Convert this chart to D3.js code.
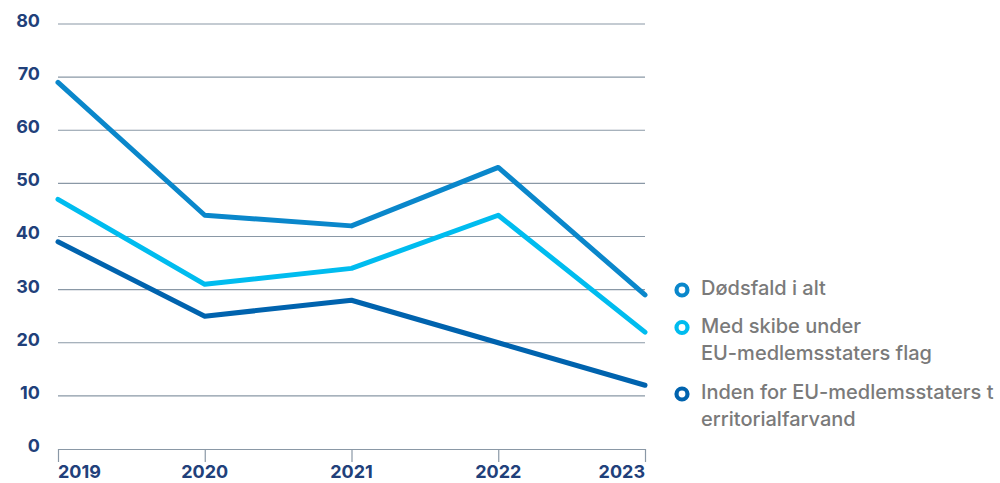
<!DOCTYPE html>
<html>
<head>
<meta charset="utf-8">
<script src="https://cdn.jsdelivr.net/npm/d3@7"></script>
<style>
  html, body { margin: 0; padding: 0; background: #ffffff; }
  svg { display: block; }
</style>
</head>
<body>
<div id="chart"></div>
<script>
// Years on the x axis
const years = ["2019", "2020", "2021", "2022", "2023"];

// Deaths per year for each series
const totalDeaths = [69, 44, 42, 53, 29];
const euFlagShips = [47, 31, 34, 44, 22];
const euTerritorialWaters = [39, 25, 28, 20, 12];

// Y axis ticks
const yTicks = [0, 10, 20, 30, 40, 50, 60, 70, 80];

// Legend labels (each entry can span several lines)
const seriesNames = [
  ["Dødsfald i alt"],
  ["Med skibe under", "EU-medlemsstaters flag"],
  ["Inden for EU-medlemsstaters t", "erritorialfarvand"]
];
const seriesColors = ["#0a87cb", "#00bcef", "#0063ae"];

const series = [
  { name: seriesNames[0], values: totalDeaths, color: seriesColors[0] },
  { name: seriesNames[1], values: euFlagShips, color: seriesColors[1] },
  { name: seriesNames[2], values: euTerritorialWaters, color: seriesColors[2] }
];

const W = 1000, H = 483;
const svg = d3.select("#chart").append("svg")
  .attr("width", W).attr("height", H);

const x = d3.scalePoint().domain(years).range([58, 645]);
const y = d3.scaleLinear().domain([0, 80]).range([449, 24]);

const labelFont = "Inter, 'Open Sans', sans-serif";

// Horizontal gridlines
svg.append("g")
  .selectAll("line")
  .data(yTicks.filter(d => d > 0))
  .join("line")
  .attr("x1", 58).attr("x2", 645)
  .attr("y1", d => y(d)).attr("y2", d => y(d))
  .attr("stroke", "#8a98a6")
  .attr("stroke-width", 1.2);

// Y axis labels
svg.append("g")
  .selectAll("text")
  .data(yTicks)
  .join("text")
  .attr("x", 40)
  .attr("y", d => y(d) - 2)
  .attr("text-anchor", "end")
  .attr("dominant-baseline", "middle")
  .attr("font-family", labelFont)
  .attr("font-weight", 700)
  .attr("font-size", 18)
  .attr("fill", "#21407a")
  .text(d => d);

// X axis: baseline with ticks
const xAxis = d3.axisBottom(x).tickSize(13).tickSizeOuter(0).tickFormat("");
const gx = svg.append("g").attr("transform", `translate(0,${y(0)})`).call(xAxis);
gx.select(".domain").attr("stroke", "#8a98a6").attr("stroke-width", 1.2);
gx.selectAll(".tick line").attr("stroke", "#8a98a6").attr("stroke-width", 1.2);

// X axis labels
svg.append("g")
  .selectAll("text")
  .data(years)
  .join("text")
  .attr("x", d => x(d))
  .attr("y", 478)
  .attr("text-anchor", (d, i) => i === 0 ? "start" : (i === years.length - 1 ? "end" : "middle"))
  .attr("font-family", labelFont)
  .attr("font-weight", 700)
  .attr("font-size", 18)
  .attr("fill", "#21407a")
  .text(d => d);

// Series lines
const line = d3.line()
  .x((d, i) => x(years[i]))
  .y(d => y(d));

svg.append("g")
  .selectAll("path")
  .data(series)
  .join("path")
  .attr("d", d => line(d.values))
  .attr("fill", "none")
  .attr("stroke", d => d.color)
  .attr("stroke-width", 5)
  .attr("stroke-linejoin", "round")
  .attr("stroke-linecap", "round");

// Legend: marker centre and first text baseline for each entry
const markerY = [290, 327.5, 394];
const baselineY = [295, 333, 399];
const legend = svg.append("g");
series.forEach((s, i) => {
  const g = legend.append("g");
  g.append("circle")
    .attr("cx", 682).attr("cy", markerY[i])
    .attr("r", 5.5)
    .attr("fill", "#ffffff")
    .attr("stroke", s.color)
    .attr("stroke-width", 4.2);
  s.name.forEach((ln, j) => {
    g.append("text")
      .attr("x", 701)
      .attr("y", baselineY[i] + j * 27)
      .attr("font-family", labelFont)
      .attr("font-weight", 500)
      .attr("font-size", 20)
      .attr("fill", "#7a7a7a")
      .text(ln);
  });
});
</script>
</body>
</html>
